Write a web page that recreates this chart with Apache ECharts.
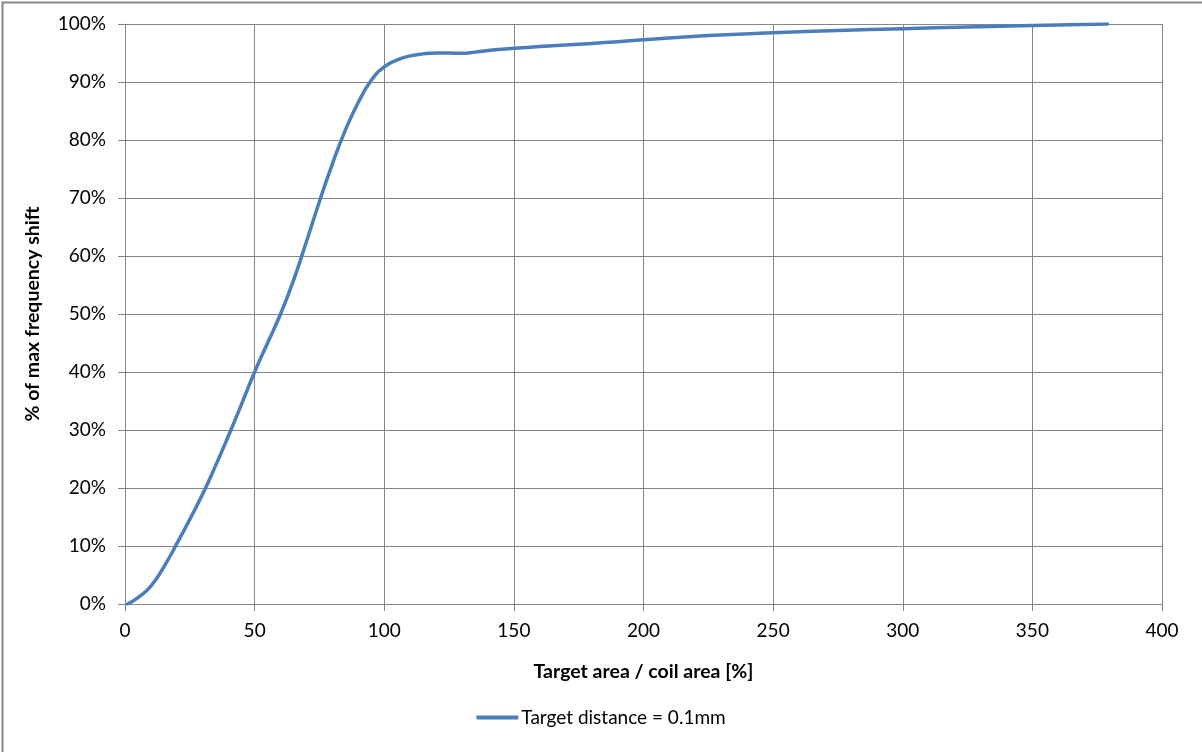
<!DOCTYPE html>
<html>
<head>
<meta charset="utf-8">
<script src="https://cdn.jsdelivr.net/npm/echarts@6/dist/echarts.min.js"></script>
<style>
html,body{margin:0;padding:0;background:#fff;}
#chart{width:1202px;height:752px;}
</style>
</head>
<body>
<div id="chart"></div>
<script>
const seriesName = 'Target distance = 0.1mm';
const xValues = [1, 5, 10, 15, 20, 25, 30, 35, 40, 45, 50, 55, 60, 65, 70, 75, 80, 85, 90, 95, 100, 105, 110, 115, 120, 125, 130, 135, 140, 145, 150, 160, 170, 180, 190, 200, 225, 250, 275, 300, 325, 350, 379];
const yValues = [0, 1.1, 3.1, 6.4, 10.4, 14.6, 19.0, 23.9, 29.1, 34.5, 40.0, 45.0, 50.0, 55.8, 62.5, 69.4, 75.9, 81.7, 86.5, 90.3, 92.6, 93.8, 94.5, 94.85, 95.0, 95.0, 94.95, 95.15, 95.45, 95.65, 95.8, 96.1, 96.4, 96.65, 96.95, 97.3, 98.0, 98.5, 98.9, 99.2, 99.5, 99.75, 100];
const xAxisName = 'Target area / coil area [%]';
const yAxisName = '% of max frequency shift';

const data = xValues.map((x, i) => [x, yValues[i]]);
const FONT = 'Lato, "Open Sans", sans-serif';
const GRID = '#868686';

const chart = echarts.init(document.getElementById('chart'), null, {renderer: 'canvas'});
chart.setOption({
  backgroundColor: '#fff',
  animation: false,
  graphic: [{
    type: 'rect', left: 0, top: 0, silent: true,
    shape: {x: 0.5, y: 0.5, width: 1201, height: 751},
    style: {fill: 'none', stroke: '#868686', lineWidth: 2}
  }],
  grid: {left: 125, top: 24, right: 40, bottom: 148, containLabel: false},
  legend: {
    bottom: 20, left: 'center',
    data: [{name: seriesName, icon: 'roundRect'}],
    itemWidth: 42, itemHeight: 4, itemGap: 10,
    textStyle: {fontFamily: FONT, fontSize: 19, color: '#000', padding: [0, 0, 0, -2]}
  },
  xAxis: {
    type: 'value', min: 0, max: 400, interval: 50,
    name: xAxisName, nameLocation: 'middle', nameGap: 58,
    nameTextStyle: {fontFamily: FONT, fontSize: 19.5, fontWeight: 'bold', color: '#000'},
    axisLine: {show: true, onZero: false, lineStyle: {color: GRID, width: 1}},
    axisTick: {show: true, length: 7, lineStyle: {color: GRID}},
    axisLabel: {fontFamily: FONT, fontSize: 19, color: '#000', margin: 17},
    splitLine: {show: true, lineStyle: {color: GRID, width: 1}}
  },
  yAxis: {
    type: 'value', min: 0, max: 100, interval: 10,
    name: yAxisName, nameLocation: 'middle', nameGap: 82, nameRotate: 90,
    nameTextStyle: {fontFamily: FONT, fontSize: 19.5, fontWeight: 'bold', color: '#000'},
    axisLine: {show: true, lineStyle: {color: GRID, width: 1}},
    axisTick: {show: true, length: 7, lineStyle: {color: GRID}},
    axisLabel: {fontFamily: FONT, fontSize: 19, color: '#000', margin: 19, formatter: '{value}%'},
    splitLine: {show: true, lineStyle: {color: GRID, width: 1}}
  },
  series: [{
    name: seriesName, type: 'line', data: data,
    smooth: 0.5, showSymbol: false, symbol: 'none',
    lineStyle: {color: '#4a7ebb', width: 3.5, cap: 'round', join: 'round'},
    itemStyle: {color: '#4a7ebb'}
  }]
});
</script>
</body>
</html>
